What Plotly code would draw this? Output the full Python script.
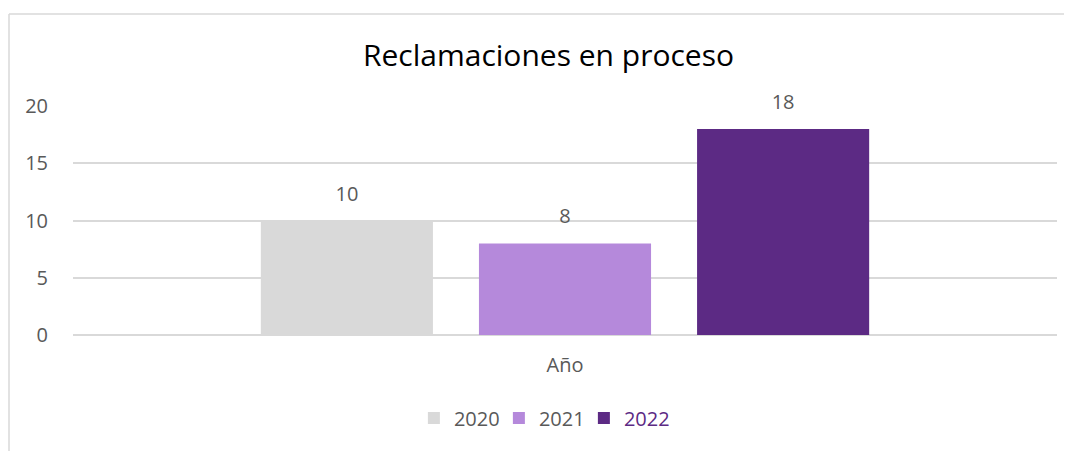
import plotly.graph_objects as go

# data
categoria = ["Año"]
series = ["2020", "2021", "2022"]
valores = [[10], [8], [18]]
colores = ["#D9D9D9", "#B589DB", "#5C2A84"]
titulo = "Reclamaciones en proceso"

FONT = "Open Sans, Segoe UI, DejaVu Sans, sans-serif"
GRIS = "#595959"

# the page body has an 8px margin, so the figure is a bit smaller than the window
W, H = 1064, 443
L, R, T, B = 65, 15, 98, 116
pw, ph = W - L - R, H - T - B

def px_x(x):
    return (x - L) / pw

def px_y(y):
    return (H - B - y) / ph

# wide blank spans around the label lift it a bit higher above the bar, like Excel
pad = "<span style='font-size:58px'> </span>"

fig = go.Figure()
for nombre, vals, col in zip(series, valores, colores):
    etiqueta = nombre
    if nombre == "2022":
        etiqueta = f"<span style='color:{col}'>{nombre}</span>"
    fig.add_trace(go.Bar(
        x=categoria, y=vals, name=etiqueta,
        marker=dict(color=col, line=dict(width=0)),
        text=[f"{pad}{v}{pad}" for v in vals],
        textposition="outside",
        textfont=dict(size=20, color=GRIS, family=FONT),
        cliponaxis=False,
    ))

fig.update_layout(
    width=W, height=H,
    margin=dict(l=L, r=R, t=T, b=B),
    paper_bgcolor="white", plot_bgcolor="white",
    barmode="group", bargap=0.335, bargroupgap=0.211,
    title=dict(text=titulo, x=0.508, xanchor="center", y=1 - 47 / H, yanchor="middle",
               font=dict(size=30, color="#000000", family=FONT)),
    font=dict(family=FONT, color=GRIS),
    showlegend=True,
    legend=dict(orientation="h", x=0.476, xanchor="center", y=px_y(410), yanchor="middle",
                font=dict(size=20, color=GRIS), itemwidth=30, entrywidth=40,
                entrywidthmode="pixels", traceorder="normal"),
    xaxis=dict(showgrid=False, showline=False, ticks="", tickfont=dict(size=20, color=GRIS),
               ticklabelstandoff=16),
    yaxis=dict(range=[0, 20], dtick=5, showgrid=True, gridcolor="#D9D9D9", gridwidth=1.5,
               zeroline=True, zerolinecolor="#D9D9D9", zerolinewidth=1.5, showline=False,
               ticks="", tickfont=dict(size=20, color=GRIS), ticklabelstandoff=24),
    shapes=[
        dict(type="line", xref="paper", yref="paper", x0=px_x(1), x1=px_x(1),
             y0=px_y(H + 5), y1=px_y(6), line=dict(color="#D9D9D9", width=1.5)),
        dict(type="line", xref="paper", yref="paper", x0=px_x(1), x1=px_x(W + 5),
             y0=px_y(6), y1=px_y(6), line=dict(color="#D9D9D9", width=1.5)),
    ],
)

fig.write_html("out.html")
